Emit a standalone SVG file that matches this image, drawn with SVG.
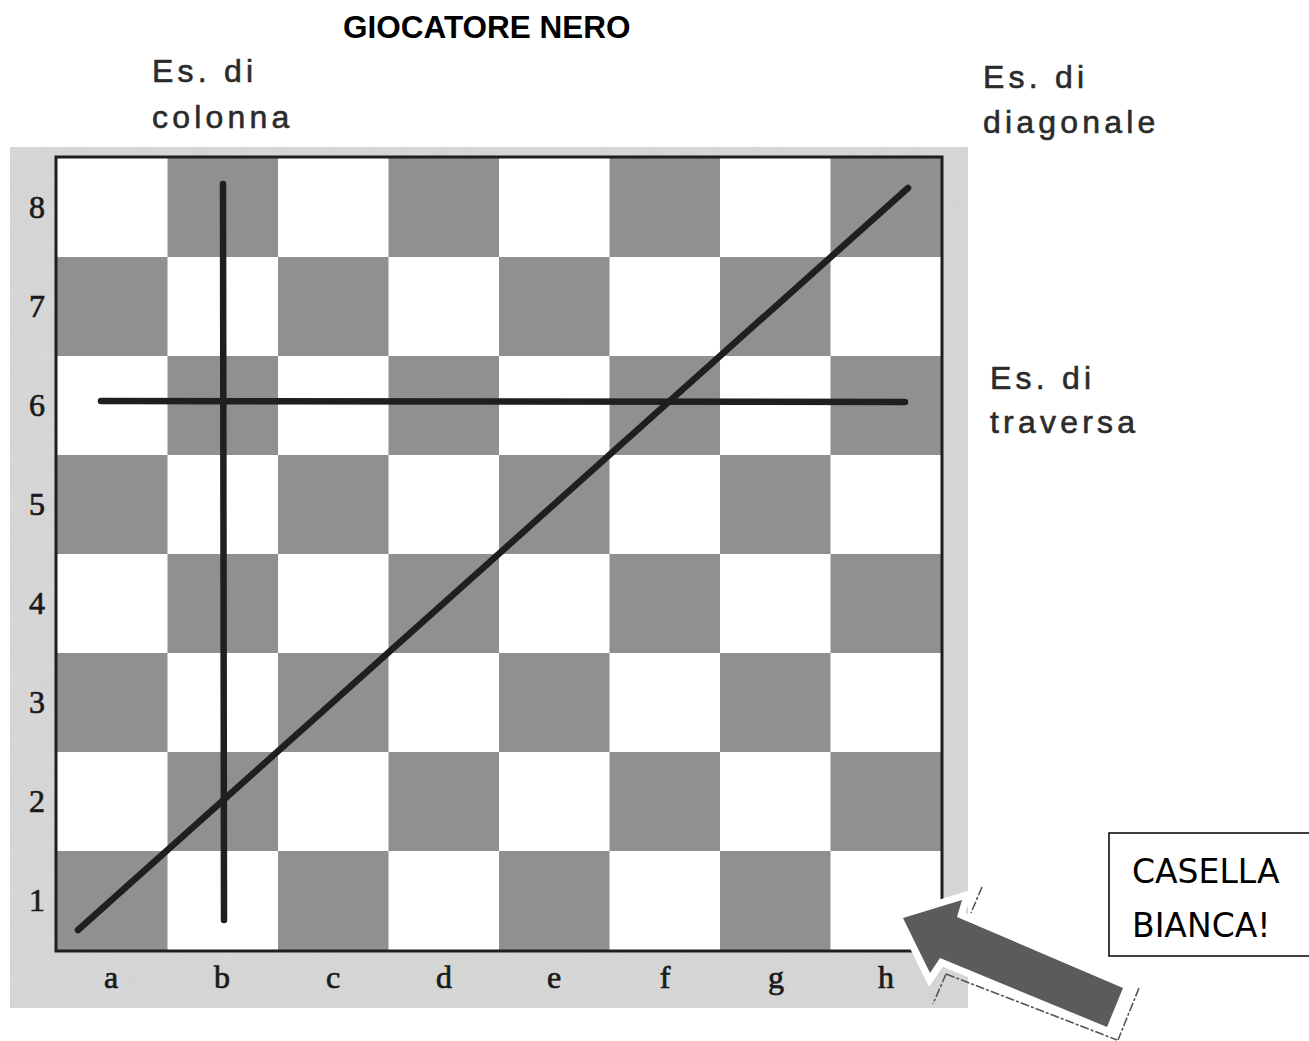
<svg xmlns="http://www.w3.org/2000/svg" width="1309" height="1041" viewBox="0 0 1309 1041">
  <style>
    .lbl { font-family: "Liberation Sans", Arial, sans-serif; font-size: 32px; fill: #2b2b2b; stroke: #2b2b2b; stroke-width: 0.6; letter-spacing: 4.2px; }
    .title { font-family: "Liberation Sans", Arial, sans-serif; font-size: 31.5px; font-weight: bold; fill: #000; }
    .coord { font-family: "Liberation Serif", "Times New Roman", serif; font-size: 32px; fill: #1a1a1a; stroke: #1a1a1a; stroke-width: 0.7; text-anchor: middle; }
    .dk { fill: #909090; }
    .mark { stroke: #1f1f1f; stroke-width: 6.5; stroke-linecap: round; fill: none; }
    .callout { font-family: "DejaVu Sans", Tahoma, sans-serif; font-size: 33px; fill: #000; }
  </style>
  <defs>
    <filter id="grain" x="0" y="0" width="100%" height="100%">
      <feTurbulence type="fractalNoise" baseFrequency="0.08" numOctaves="2" seed="3" result="n"/>
      <feColorMatrix in="n" type="matrix" values="0 0 0 0 0.72  0 0 0 0 0.72  0 0 0 0 0.72  0 0 0 0.5 0" result="c"/>
      <feComposite in="c" in2="SourceGraphic" operator="in" result="t"/>
      <feMerge><feMergeNode in="SourceGraphic"/><feMergeNode in="t"/></feMerge>
    </filter>
  </defs>
  <rect width="1309" height="1041" fill="#fff"/>

  <g id="title">
    <text class="title" x="343" y="38">GIOCATORE NERO</text>
  </g>
  <g id="label-colonna">
    <text class="lbl" x="152" y="82">Es. di</text>
    <text class="lbl" x="152" y="128">colonna</text>
  </g>
  <g id="label-diagonale">
    <text class="lbl" x="983" y="88">Es. di</text>
    <text class="lbl" x="983" y="133">diagonale</text>
  </g>
  <g id="label-traversa">
    <text class="lbl" x="990" y="389">Es. di</text>
    <text class="lbl" x="990" y="433">traversa</text>
  </g>

  <g id="board">
    <rect x="10" y="147" width="958" height="861" fill="#d3d3d3" filter="url(#grain)"/>
    <rect x="57" y="158" width="884" height="792" fill="#fff"/>
    <g id="dark-squares">
      <rect class="dk" x="167.5" y="158" width="110.5" height="99"/>
      <rect class="dk" x="388.5" y="158" width="110.5" height="99"/>
      <rect class="dk" x="609.5" y="158" width="110.5" height="99"/>
      <rect class="dk" x="830.5" y="158" width="110.5" height="99"/>
      <rect class="dk" x="57" y="257" width="110.5" height="99"/>
      <rect class="dk" x="278" y="257" width="110.5" height="99"/>
      <rect class="dk" x="499" y="257" width="110.5" height="99"/>
      <rect class="dk" x="720" y="257" width="110.5" height="99"/>
      <rect class="dk" x="167.5" y="356" width="110.5" height="99"/>
      <rect class="dk" x="388.5" y="356" width="110.5" height="99"/>
      <rect class="dk" x="609.5" y="356" width="110.5" height="99"/>
      <rect class="dk" x="830.5" y="356" width="110.5" height="99"/>
      <rect class="dk" x="57" y="455" width="110.5" height="99"/>
      <rect class="dk" x="278" y="455" width="110.5" height="99"/>
      <rect class="dk" x="499" y="455" width="110.5" height="99"/>
      <rect class="dk" x="720" y="455" width="110.5" height="99"/>
      <rect class="dk" x="167.5" y="554" width="110.5" height="99"/>
      <rect class="dk" x="388.5" y="554" width="110.5" height="99"/>
      <rect class="dk" x="609.5" y="554" width="110.5" height="99"/>
      <rect class="dk" x="830.5" y="554" width="110.5" height="99"/>
      <rect class="dk" x="57" y="653" width="110.5" height="99"/>
      <rect class="dk" x="278" y="653" width="110.5" height="99"/>
      <rect class="dk" x="499" y="653" width="110.5" height="99"/>
      <rect class="dk" x="720" y="653" width="110.5" height="99"/>
      <rect class="dk" x="167.5" y="752" width="110.5" height="99"/>
      <rect class="dk" x="388.5" y="752" width="110.5" height="99"/>
      <rect class="dk" x="609.5" y="752" width="110.5" height="99"/>
      <rect class="dk" x="830.5" y="752" width="110.5" height="99"/>
      <rect class="dk" x="57" y="851" width="110.5" height="99"/>
      <rect class="dk" x="278" y="851" width="110.5" height="99"/>
      <rect class="dk" x="499" y="851" width="110.5" height="99"/>
      <rect class="dk" x="720" y="851" width="110.5" height="99"/>
    </g>
    <rect x="56" y="157" width="886" height="794" fill="none" stroke="#1e1e1e" stroke-width="3"/>
    <g id="ranks">
      <text class="coord" x="37" y="218">8</text>
      <text class="coord" x="37" y="317">7</text>
      <text class="coord" x="37" y="416">6</text>
      <text class="coord" x="37" y="515">5</text>
      <text class="coord" x="37" y="614">4</text>
      <text class="coord" x="37" y="713">3</text>
      <text class="coord" x="37" y="812">2</text>
      <text class="coord" x="37" y="911">1</text>
    </g>
    <g id="files">
      <text class="coord" x="111" y="988">a</text>
      <text class="coord" x="222" y="988">b</text>
      <text class="coord" x="333" y="988">c</text>
      <text class="coord" x="444" y="988">d</text>
      <text class="coord" x="554" y="988">e</text>
      <text class="coord" x="665" y="988">f</text>
      <text class="coord" x="776" y="988">g</text>
      <text class="coord" x="886" y="988">h</text>
    </g>
    <g id="marks">
      <line class="mark" x1="223" y1="184" x2="224" y2="920"/>
      <line class="mark" x1="101" y1="401" x2="905" y2="402"/>
      <line class="mark" x1="78" y1="930" x2="908" y2="188"/>
    </g>
  </g>

  <g id="callout-casella">
    <rect x="1109" y="833" width="210" height="123" fill="#fff" stroke="#000" stroke-width="1.5"/>
    <text class="callout" x="1132" y="883">CASELLA</text>
    <text class="callout" x="1132" y="937">BIANCA!</text>
  </g>

  <g id="connectors">
    <g id="arrow">
      <g stroke="#555" stroke-width="1.6" fill="none" stroke-dasharray="9 2 3 2">
        <line x1="982" y1="887" x2="971" y2="913"/>
        <line x1="946" y1="974" x2="933" y2="1004"/>
        <line x1="946" y1="974" x2="1117" y2="1040"/>
        <line x1="1139" y1="988" x2="1118" y2="1040"/>
      </g>
      <polygon points="903,918 962,900 957,917 1123,988 1107,1027 940,958 930,973" fill="#fff" stroke="#fff" stroke-width="14" stroke-linejoin="miter"/>
      <polygon points="903,918 962,900 957,917 1123,988 1107,1027 940,958 930,973" fill="#5b5b5b"/>
    </g>
  </g>
</svg>
